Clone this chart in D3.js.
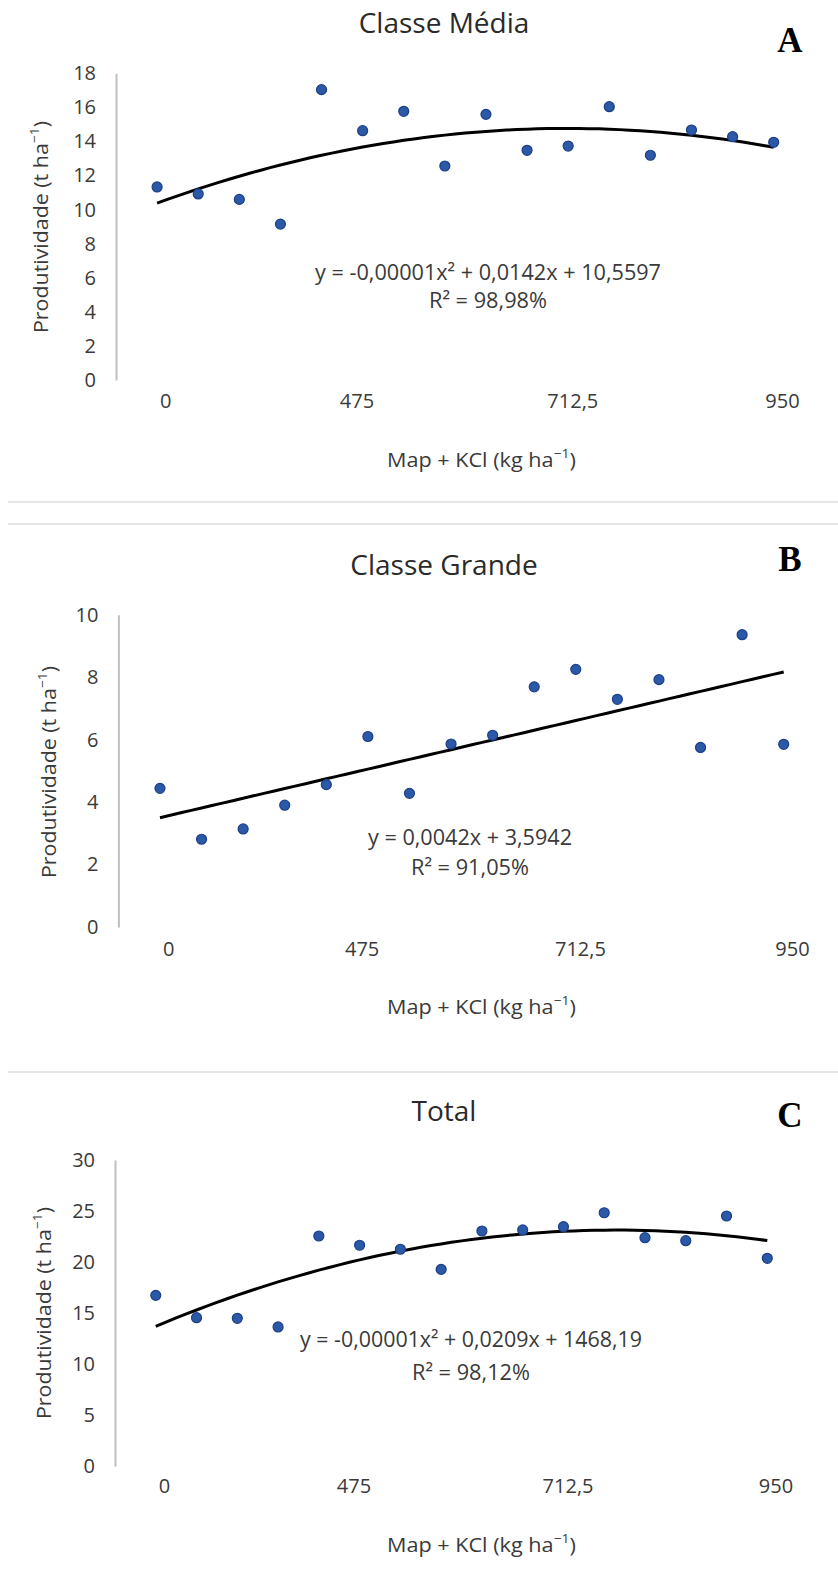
<!DOCTYPE html>
<html lang="pt">
<head>
<meta charset="utf-8">
<title>Produtividade - Map + KCl</title>
<script src="https://d3js.org/d3.v7.min.js"></script>
<style>
  body { margin: 0; background: #fff; }
  .tick text { font-family: "Open Sans", sans-serif; font-size: 20px; fill: #3a3a3a; }
  .title { font-family: "Open Sans", sans-serif; font-size: 28px; fill: #2a2a2a; }
  .letter { font-family: "Liberation Serif", "Times New Roman", serif; font-size: 35px; font-weight: bold; fill: #000; }
  .axis-title { font-family: "Open Sans", sans-serif; font-size: 20px; fill: #3a3a3a; }
  .eq { font-family: "Open Sans", sans-serif; font-size: 22px; fill: #3a3a3a; }
  .pt { fill: #2b59a8; stroke: #1c3f86; stroke-width: 1.2; }
  .trend { fill: none; stroke: #000; stroke-width: 3; }
</style>
</head>
<body>
<svg id="chart" width="838" height="1580"></svg>
<script>
// categories (16 doses, equally spaced on the axis)
const categories = [0, 1, 2, 3, 4, 5, 6, 7, 8, 9, 10, 11, 12, 13, 14, 15];

// productivity values (t/ha)
const mediaVals  = [11.33, 10.92, 10.60, 9.15, 17.04, 14.63, 15.77, 12.56, 15.59, 13.48, 13.73, 16.04, 13.19, 14.67, 14.28, 13.95];
const grandeVals = [4.44, 2.81, 3.14, 3.90, 4.56, 6.10, 4.28, 5.86, 6.14, 7.69, 8.25, 7.29, 7.92, 5.75, 9.36, 5.85];
const totalVals  = [16.73, 14.54, 14.48, 13.63, 22.55, 21.64, 21.25, 19.28, 23.04, 23.14, 23.46, 24.83, 22.38, 22.09, 24.51, 20.36];

// axis labels
const xTickLabels = ["0", "475", "712,5", "950"];
const xTickAt = [0.2, 4.85, 10.1, 15.2];
const yTicksMedia  = [0, 2, 4, 6, 8, 10, 12, 14, 16, 18];
const yTicksGrande = [0, 2, 4, 6, 8, 10];
const yTicksTotal  = [0, 5, 10, 15, 20, 25, 30];

const panels = [
  { letter: "A", title: "Classe Média", values: mediaVals, yTicks: yTicksMedia, yMax: 18, degree: 2,
    eq: "y = -0,00001x² + 0,0142x + 10,5597", r2: "R² = 98,98%",
    axisX: 116, x15: 773.7, y0: 380, yTop: 73.3, xPad: 14,
    titleY: 33, letterY: 52, yTitleX: 48, yTitleY: 227, xTitleY: 467,
    eqX: 488, eqY: 280, eqW: 346, r2Y: 308 },
  { letter: "B", title: "Classe Grande", values: grandeVals, yTicks: yTicksGrande, yMax: 10, degree: 1,
    eq: "y = 0,0042x + 3,5942", r2: "R² = 91,05%",
    axisX: 118.4, x15: 783.7, y0: 927, yTop: 614.7, xPad: 15,
    titleY: 575, letterY: 571, yTitleX: 56, yTitleY: 772, xTitleY: 1014,
    eqX: 470, eqY: 845, eqW: 204, r2Y: 875 },
  { letter: "C", title: "Total", values: totalVals, yTicks: yTicksTotal, yMax: 30, degree: 2,
    eq: "y = -0,00001x² + 0,0209x + 1468,19", r2: "R² = 98,12%",
    axisX: 115, x15: 767.3, y0: 1466, yTop: 1160, xPad: 13,
    titleY: 1121, letterY: 1127, yTitleX: 51, yTitleY: 1313, xTitleY: 1552,
    eqX: 471, eqY: 1347, eqW: 342, r2Y: 1380 }
];

const svg = d3.select("#chart");

// least squares polynomial fit (what the spreadsheet trendline does)
function polyFit(xs, ys, deg) {
  const n = deg + 1;
  const A = [];
  for (let r = 0; r < n; r++) {
    A.push([]);
    for (let c = 0; c < n; c++) A[r].push(d3.sum(xs, x => Math.pow(x, r + c)));
    A[r].push(d3.sum(xs, (x, i) => ys[i] * Math.pow(x, r)));
  }
  for (let k = 0; k < n; k++) {
    for (let r = k + 1; r < n; r++) {
      const f = A[r][k] / A[k][k];
      for (let c = k; c <= n; c++) A[r][c] -= f * A[k][c];
    }
  }
  const coef = new Array(n).fill(0);
  for (let r = n - 1; r >= 0; r--) {
    let s = A[r][n];
    for (let c = r + 1; c < n; c++) s -= A[r][c] * coef[c];
    coef[r] = s / A[r][r];
  }
  return x => coef.reduce((acc, c, i) => acc + c * Math.pow(x, i), 0);
}

// separators between the three figures
[502, 524, 1072].forEach(yy => {
  svg.append("line").attr("x1", 8).attr("x2", 838).attr("y1", yy).attr("y2", yy)
     .attr("stroke", "#dcdcdc").attr("stroke-width", 1.5);
});

panels.forEach(p => {
  const x = d3.scaleLinear().domain([-1, 15]).range([p.axisX, p.x15]);
  const y = d3.scaleLinear().domain([0, p.yMax]).range([p.y0, p.yTop]);
  const g = svg.append("g");

  // y axis
  g.append("g")
    .attr("transform", `translate(${p.axisX},0)`)
    .call(d3.axisLeft(y).tickValues(p.yTicks).tickSize(0).tickSizeOuter(0).tickPadding(20))
    .call(a => a.select(".domain").attr("stroke", "#bfbfbf").attr("stroke-width", 2));

  // x labels (no axis line)
  g.append("g")
    .attr("transform", `translate(0,${p.y0})`)
    .call(d3.axisBottom(x).tickValues(xTickAt).tickFormat((d, i) => xTickLabels[i]).tickSize(0).tickPadding(p.xPad))
    .call(a => a.select(".domain").remove());

  // trendline
  const f = polyFit(categories, p.values, p.degree);
  const xs = d3.range(0, 15.001, 0.25);
  g.append("path")
    .attr("class", "trend")
    .attr("d", d3.line().x(d => x(d)).y(d => y(f(d)))(xs));

  // points
  g.selectAll("circle")
    .data(p.values)
    .join("circle")
    .attr("class", "pt")
    .attr("cx", (d, i) => x(categories[i]))
    .attr("cy", d => y(d))
    .attr("r", 5);

  // title and letter
  g.append("text").attr("class", "title").attr("x", 444).attr("y", p.titleY)
    .attr("text-anchor", "middle").text(p.title);
  g.append("text").attr("class", "letter").attr("x", 790).attr("y", p.letterY)
    .attr("text-anchor", "middle").text(p.letter);

  // axis titles
  const yt = g.append("text").attr("class", "axis-title")
    .attr("transform", `translate(${p.yTitleX},${p.yTitleY}) rotate(-90)`)
    .attr("x", -106).attr("textLength", 212).attr("lengthAdjust", "spacingAndGlyphs");
  yt.append("tspan").text("Produtividade (t ha");
  yt.append("tspan").attr("baseline-shift", "super").attr("font-size", "13px").text("−1");
  yt.append("tspan").text(")");

  const xt = g.append("text").attr("class", "axis-title")
    .attr("x", 481 - 94).attr("y", p.xTitleY)
    .attr("textLength", 189).attr("lengthAdjust", "spacingAndGlyphs");
  xt.append("tspan").text("Map + KCl (kg ha");
  xt.append("tspan").attr("baseline-shift", "super").attr("font-size", "13px").text("−1");
  xt.append("tspan").text(")");

  // equation + R²
  g.append("text").attr("class", "eq").attr("x", p.eqX - p.eqW / 2).attr("y", p.eqY)
    .attr("textLength", p.eqW).attr("lengthAdjust", "spacingAndGlyphs").text(p.eq);
  g.append("text").attr("class", "eq").attr("x", p.eqX - 59).attr("y", p.r2Y)
    .attr("textLength", 118).attr("lengthAdjust", "spacingAndGlyphs").text(p.r2);
});
</script>
</body>
</html>
